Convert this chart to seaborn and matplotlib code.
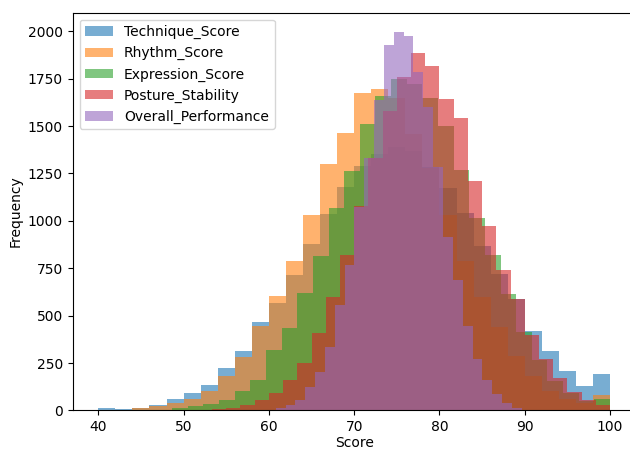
import numpy as np
import pandas as pd
import seaborn as sns
import matplotlib.pyplot as plt

# five score columns, 30 bins each over their own min..max
names = ["Technique_Score", "Rhythm_Score", "Expression_Score",
         "Posture_Stability", "Overall_Performance"]
ranges = [(40, 100), (40, 100), (45, 100), (50, 100), (56.19, 90.8)]

technique = [12, 8, 15, 27, 60, 91, 134, 222, 315, 466, 565, 717, 877, 1035, 1180,
             1290, 1355, 1392, 1371, 1284, 1172, 1041, 869, 722, 588, 421, 315, 210, 131, 192]
rhythm = [3, 5, 12, 22, 38, 60, 103, 182, 280, 445, 603, 790, 1032, 1298, 1461,
          1672, 1694, 1650, 1460, 1280, 1030, 790, 600, 440, 285, 180, 105, 62, 38, 80]
expression = [3, 5, 15, 22, 35, 55, 105, 161, 319, 433, 618, 815, 1068, 1264, 1511,
              1658, 1750, 1720, 1650, 1500, 1270, 1015, 820, 615, 412, 266, 155, 94, 50, 60]
posture = [2, 4, 8, 15, 30, 55, 90, 161, 252, 410, 597, 820, 1080, 1330, 1580,
           1760, 1883, 1818, 1641, 1541, 1210, 973, 741, 588, 400, 270, 170, 100, 55, 30]
overall = [1, 1, 2, 5, 12, 30, 55, 126, 201, 337, 556, 767, 1075, 1330, 1640,
           1927, 1998, 1976, 1786, 1602, 1285, 916, 688, 446, 270, 161, 87, 38, 15, 5]

counts = [technique, rhythm, expression, posture, overall]
colors = ["tab:blue", "tab:orange", "tab:green", "tab:red", "tab:purple"]

fig = plt.figure(figsize=(6.3, 4.5), dpi=100)
ax = fig.add_axes([0.1154, 0.0878, 0.8935, 0.884])

for name, (lo, hi), cnt, col in zip(names, ranges, counts, colors):
    edges = np.linspace(lo, hi, 31)
    df = pd.DataFrame({"score": (edges[:-1] + edges[1:]) / 2, "freq": cnt})
    sns.histplot(data=df, x="score", weights="freq", bins=edges.tolist(), color=col,
                 alpha=0.6, linewidth=0, label=name, ax=ax)

ax.set_xlim(37, 103)
ax.set_ylim(0, 2098)
ax.set_xlabel("Score", labelpad=1)
ax.set_ylabel("Frequency")
ax.legend(loc="upper left")
fig.savefig("out.png", dpi=100)
